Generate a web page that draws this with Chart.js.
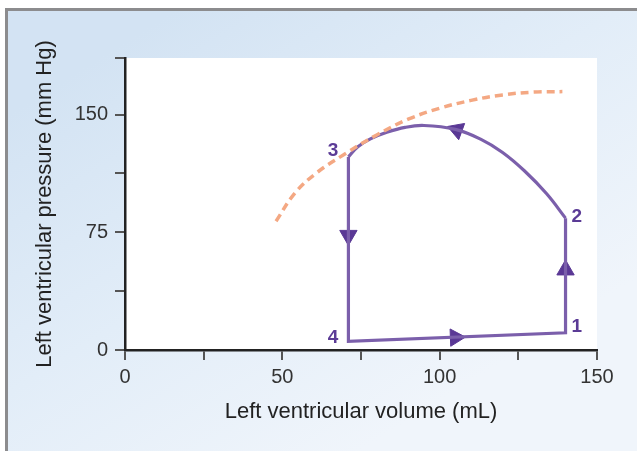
<!DOCTYPE html>
<html>
<head>
<meta charset="utf-8">
<script src="https://cdn.jsdelivr.net/npm/chart.js@4.4.1/dist/chart.umd.min.js"></script>
<style>
  html, body { margin: 0; padding: 0; background: #fff; }
  #wrap { width: 637px; height: 451px; position: relative; }
</style>
</head>
<body>
<div id="wrap"><canvas id="pvChart"></canvas></div>
<script>
// Pressure-volume loop data (volume in mL, pressure in mm Hg)
const espvrVol = [48, 54, 61, 70, 80, 90, 100, 110, 120, 130, 139];
const espvrPres = [82, 100, 113, 125, 137, 147, 154, 159, 162.5, 164.3, 164.6];

// ejection curve, from point 2 back to point 3 (listed left to right)
const ejectVol = [71, 74, 78, 83, 89, 95, 105, 113, 120, 127, 134, 140];
const ejectPres = [123, 129.5, 134.5, 138.5, 141.8, 143, 140.5, 134.3, 125.8, 114, 99.5, 84];

// straight parts of the loop: 3 -> 4 -> 1 -> 2
const loopVol = [71, 71, 140, 140];
const loopPres = [123, 5.5, 11, 84];
const loopLabels = ['3', '4', '1', '2'];

// direction arrows
const arrowVol = [71, 105, 140, 105.5];
const arrowPres = [73, 8, 51, 140.2];
const arrowRot = [180, 88, 0, 290];

const xTicksShown = [0, 50, 100, 150];
const yTicksShown = [0, 75, 150];

const toPoints = (xs, ys) => xs.map((x, i) => ({ x: x, y: ys[i] }));

// Background panel, border and white plot area
const panelPlugin = {
  id: 'panel',
  beforeDraw(chart) {
    const { ctx, chartArea } = chart;
    ctx.save();
    ctx.fillStyle = '#ffffff';
    ctx.fillRect(0, 0, chart.width, chart.height);
    const g = ctx.createLinearGradient(0, 120, 250, 520);
    g.addColorStop(0, '#d3e3f3');
    g.addColorStop(0.5, '#e2edf8');
    g.addColorStop(1, '#f0f5fb');
    ctx.fillStyle = g;
    ctx.fillRect(5, 8, chart.width - 5, chart.height - 8);
    ctx.fillStyle = '#8c8c8e';
    ctx.fillRect(5, 8, chart.width - 5, 3);
    ctx.fillRect(5, 8, 3, chart.height - 8);
    ctx.fillStyle = '#ffffff';
    ctx.fillRect(chartArea.left, chartArea.top, chartArea.right - chartArea.left, chartArea.bottom - chartArea.top);
    ctx.restore();
  }
};

// Numbers 1-4 next to the loop corners
const cornerLabelPlugin = {
  id: 'cornerLabels',
  afterDatasetsDraw(chart) {
    const { ctx, scales } = chart;
    ctx.save();
    ctx.font = 'bold 19px "Liberation Sans", Arial, sans-serif';
    ctx.fillStyle = '#5b3b96';
    ctx.textBaseline = 'middle';
    loopLabels.forEach((txt, i) => {
      const px = scales.x.getPixelForValue(loopVol[i]);
      const py = scales.y.getPixelForValue(loopPres[i]);
      const left = loopVol[i] < 100;
      ctx.textAlign = left ? 'right' : 'left';
      const dy = txt === '2' ? -1 : (txt === '4' ? -4 : -6);
      ctx.fillText(txt, px + (left ? -10 : 6), py + dy);
    });
    ctx.restore();
  }
};

const ctx = document.getElementById('pvChart').getContext('2d');
new Chart(ctx, {
  type: 'scatter',
  data: {
    datasets: [
      {
        label: 'ESPVR',
        data: toPoints(espvrVol, espvrPres),
        showLine: true,
        borderColor: '#f4a883',
        borderWidth: 3.5,
        borderDash: [8, 5],
        tension: 0.4,
        pointRadius: 0
      },
      {
        label: 'Ejection',
        data: toPoints(ejectVol, ejectPres),
        showLine: true,
        borderColor: '#7b5fab',
        borderWidth: 3.2,
        tension: 0.4,
        pointRadius: 0
      },
      {
        label: 'Loop',
        data: toPoints(loopVol, loopPres),
        showLine: true,
        borderColor: '#7b5fab',
        borderWidth: 3.2,
        borderJoinStyle: 'miter',
        tension: 0,
        pointRadius: 0
      },
      {
        label: 'Arrows',
        data: toPoints(arrowVol, arrowPres),
        showLine: false,
        pointStyle: 'triangle',
        rotation: arrowRot,
        pointRadius: 10,
        pointBackgroundColor: '#5a3895',
        pointBorderColor: '#5a3895',
        pointBorderWidth: 1
      }
    ]
  },
  plugins: [panelPlugin, cornerLabelPlugin],
  options: {
    responsive: true,
    maintainAspectRatio: false,
    animation: false,
    layout: { padding: { top: 58, right: 40, left: 10, bottom: 0 } },
    plugins: {
      legend: { display: false },
      tooltip: { enabled: false }
    },
    scales: {
      x: {
        type: 'linear',
        min: 0,
        max: 150,
        afterFit(scale) { scale.height = 101; },
        border: { display: true, color: '#222', width: 2.5 },
        grid: { drawOnChartArea: false, drawTicks: true, tickLength: 10, color: '#555', lineWidth: 2 },
        ticks: {
          stepSize: 25,
          padding: 5,
          maxRotation: 0,
          color: '#333',
          font: { family: '"Liberation Sans", Arial, sans-serif', size: 20 },
          callback: v => (xTicksShown.includes(v) ? String(v) : '')
        },
        title: {
          display: true,
          text: 'Left ventricular volume (mL)',
          color: '#222',
          font: { family: '"Liberation Sans", Arial, sans-serif', size: 22 },
          padding: { top: 0, bottom: 26 }
        }
      },
      y: {
        type: 'linear',
        min: 0,
        max: 186,
        afterFit(scale) { scale.width = 115; },
        border: { display: true, color: '#222', width: 2.5 },
        grid: { drawOnChartArea: false, drawTicks: true, tickLength: 10, color: '#555', lineWidth: 2 },
        ticks: {
          stepSize: 37.5,
          padding: 7,
          color: '#333',
          font: { family: '"Liberation Sans", Arial, sans-serif', size: 20 },
          callback: v => (yTicksShown.includes(v) ? String(v) : '')
        },
        title: {
          display: true,
          text: 'Left ventricular pressure (mm Hg)',
          color: '#222',
          font: { family: '"Liberation Sans", Arial, sans-serif', size: 22 },
          padding: { top: 22, bottom: 0 }
        }
      }
    }
  }
});
</script>
</body>
</html>
